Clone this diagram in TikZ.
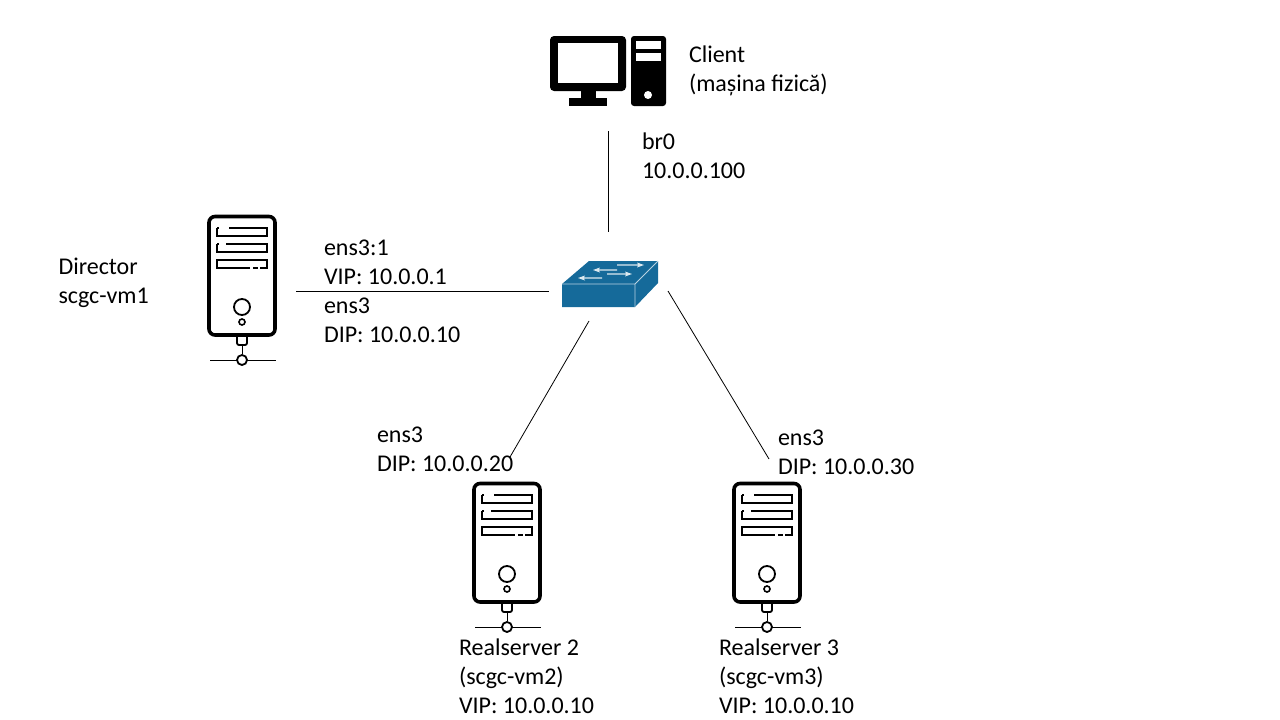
\documentclass[tikz,border=0pt]{standalone}
\usepackage{fontspec}
\setmainfont{Carlito}
\definecolor{sw}{HTML}{156A9A}
\tikzset{
  x=1pt,y=-1pt,
  lbl/.style={inner sep=0pt,outer sep=0pt,align=left,anchor=base west,text=black,font=\fontsize{24}{29}\selectfont},
  link/.style={draw=black,line width=0.8pt},
  srv/.pic={
    \draw[line width=3.6pt,rounded corners=6pt,fill=white] (-33,1.5) rectangle (33,120);
    \draw[line width=2pt] (-25.5,12.5) -- (-25.5,20.5) -- (24.5,20.5) -- (24.5,12.5) -- (-13,12.5) (-23,12.5) -- (-25.5,12.5);
    \draw[line width=2pt] (-25.5,28.5) -- (-25.5,36.5) -- (24.5,36.5) -- (24.5,28.5) -- (-16,28.5) (-23,28.5) -- (-25.5,28.5);
    \draw[line width=2pt] (-25.5,44.5) rectangle (24.5,52.5);
    \draw[white,line width=2.2pt] (8,52.5) -- (11,52.5) (16,52.5) -- (18,52.5);
    \draw[line width=1.8pt] (0,92) circle (8);
    \draw[line width=1.6pt] (0,107) circle (3);
    \draw[line width=1.8pt,rounded corners=2pt] (-5,121) -- (-5,130) -- (5,130) -- (5,121);
    \draw[line width=1pt] (0,130) -- (0,139);
    \draw[line width=1pt] (-32,145) -- (34,145);
    \draw[line width=1.8pt,fill=white] (0,145) circle (5);
  }
}
\begin{document}
\begin{tikzpicture}
\useasboundingbox (0,0) rectangle (1280,720);
% client
\fill[rounded corners=4pt] (550,36) rectangle (626,91);
\fill[white] (558,43) rectangle (618,83);
\fill (581,90) rectangle (596,99);
\fill (569,98) rectangle (607,106);
\fill[rounded corners=3pt] (631,36) rectangle (666,106);
\fill[white] (636,41) rectangle (661,49);
\fill[white] (636,53) rectangle (661,61);
\fill[white] (648,95) circle (4);
% switch
\fill[sw] (562,284) -- (589,261) -- (658,261) -- (658,283) -- (635,307) -- (562,307) -- cycle;
\draw[white!70!sw,line width=0.8pt] (562,284) -- (635,284) -- (658,261) (635,284) -- (635,307);
\foreach \xa/\xb/\yy/\dirn in {617/644/265/1,593/617/270/-1,607/632/274/1,578/602/278/-1}{
  \ifnum\dirn=1
    \fill[white!85!sw] (\xa,\yy-0.6) -- (\xb-6,\yy-0.6) -- (\xb-7,\yy-2.5) -- (\xb,\yy) -- (\xb-7,\yy+2.5) -- (\xb-6,\yy+0.6) -- (\xa,\yy+0.6) -- cycle;
  \else
    \fill[white!85!sw] (\xb,\yy-0.6) -- (\xa+6,\yy-0.6) -- (\xa+7,\yy-2.5) -- (\xa,\yy) -- (\xa+7,\yy+2.5) -- (\xa+6,\yy+0.6) -- (\xb,\yy+0.6) -- cycle;
  \fi
}
% servers
\pic at (242,215) {srv};
\pic at (507,482) {srv};
\pic at (767,482) {srv};
% connector ends
\coordinate (cl) at (608,131);
\coordinate (swt) at (608,232);
\coordinate (dir) at (296,291.5);
\coordinate (swl) at (549,291.5);
\coordinate (swb) at (589,321);
\coordinate (rs2) at (510,457);
\coordinate (swr) at (668,291);
\coordinate (rs3) at (769,459);
\draw[link] (cl) -- (swt);
\draw[link] (dir) -- (swl);
\draw[link] (swb) -- (rs2);
\draw[link] (swr) -- (rs3);
% labels
\node[lbl] (t1) at (689,91) {Client\\(mașina fizică)};
\node[lbl] (t2) at (642,178) {br0\\10.0.0.100};
\node[lbl] (t3) at (58.5,303) {Director\\scgc-vm1};
\node[lbl] (t4) at (324,284) {ens3:1\\VIP: 10.0.0.1};
\node[lbl] (t5) at (324,342) {ens3\\DIP: 10.0.0.10};
\node[lbl] (t6) at (377,471) {ens3\\DIP: 10.0.0.20};
\node[lbl] (t7) at (778,474) {ens3\\DIP: 10.0.0.30};
\node[lbl] (t8) at (459,713) {Realserver 2\\(scgc-vm2)\\VIP: 10.0.0.10};
\node[lbl] (t9) at (719,713) {Realserver 3\\(scgc-vm3)\\VIP: 10.0.0.10};
\end{tikzpicture}
\end{document}
